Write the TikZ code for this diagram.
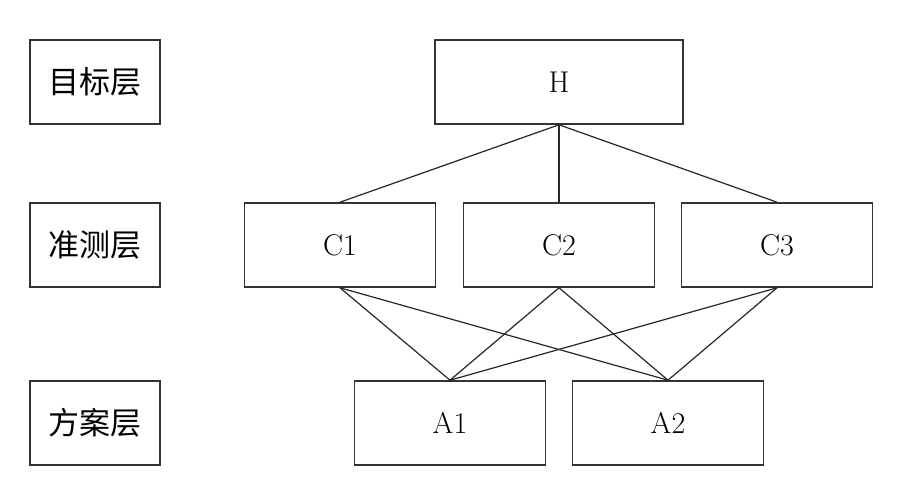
\documentclass[tikz,border=0pt]{standalone}
\usepackage{fontspec}
\newfontfamily\cjk{Noto Sans CJK SC}
\usetikzlibrary{positioning}

\begin{document}
\begin{tikzpicture}[
    x=1pt, y=1pt,
    node distance=163pt and 219pt,
    on grid,
    every node/.style={font=\fontsize{30}{30}\selectfont},
    lvl/.style={rectangle, draw=black!80, line width=1.6pt, fill=white, minimum width=130pt, minimum height=84pt, font=\cjk\fontsize{31}{31}\selectfont},
    elem/.style={rectangle, draw=black!80, line width=1.6pt, fill=white, minimum width=191pt, minimum height=84pt},
    link/.style={line width=1.2pt, black!85}
]
    \useasboundingbox (0,0) rectangle (904,-502);

    % hierarchy
    \node[elem, minimum width=248pt] (H) at (559,-82) {H};
    \node[elem, below=of H]          (C2) {C2};
    \node[elem, left=of C2]          (C1) {C1};
    \node[elem, right=218pt of C2]   (C3) {C3};
    \node[elem, below right=178pt and 110pt of C1] (A1) {A1};
    \node[elem, right=218pt of A1]   (A2) {A2};

    % layer names
    \node[lvl] (goal) at (95,-82)  {目标层};
    \node[lvl] (crit) at (95,-245) {准测层};
    \node[lvl] (plan) at (95,-423) {方案层};

    \foreach \c in {C1,C2,C3} {
        \draw[link] (H.south) -- (\c.north);
        \draw[link] (\c.south) -- (A1.north);
        \draw[link] (\c.south) -- (A2.north);
    }
\end{tikzpicture}
\end{document}
